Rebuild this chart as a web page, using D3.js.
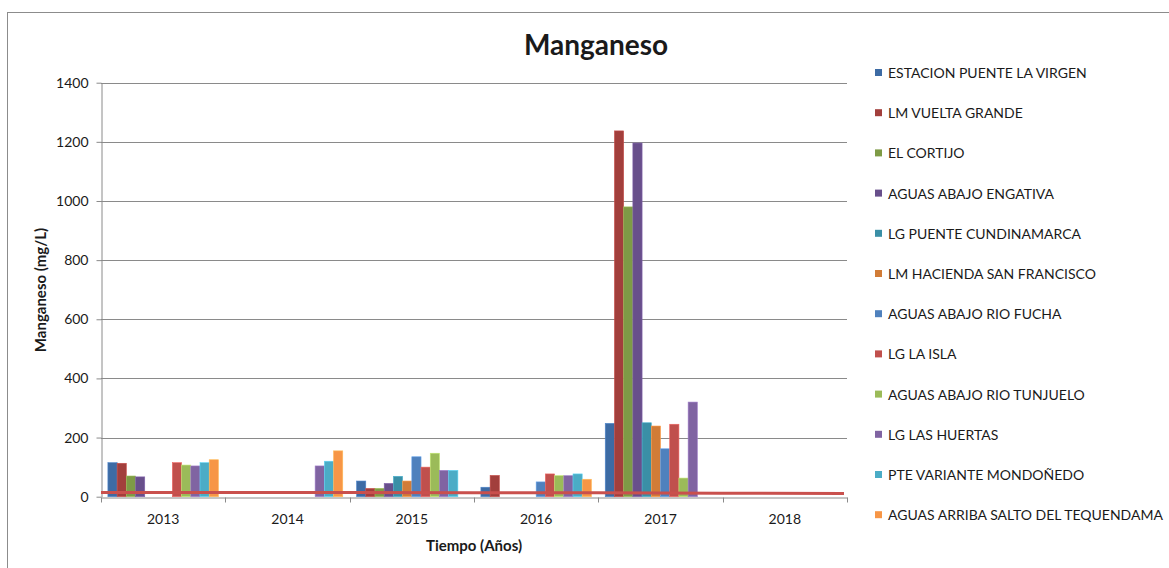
<!DOCTYPE html>
<html>
<head>
<meta charset="utf-8">
<script src="https://cdn.jsdelivr.net/npm/d3@7"></script>
<style>
  body { margin: 0; background: #fff; }
  text { font-family: Lato, "Liberation Sans", sans-serif; fill: #1a1a1a; }
</style>
</head>
<body>
<svg id="chart" width="1169" height="568"></svg>
<script>
const years = ["2013", "2014", "2015", "2016", "2017", "2018"]

const stations = [
  "ESTACION PUENTE LA VIRGEN",
  "LM VUELTA GRANDE",
  "EL CORTIJO",
  "AGUAS ABAJO ENGATIVA",
  "LG PUENTE CUNDINAMARCA",
  "LM HACIENDA SAN FRANCISCO",
  "AGUAS ABAJO RIO FUCHA",
  "LG LA ISLA",
  "AGUAS ABAJO RIO TUNJUELO",
  "LG LAS HUERTAS",
  "PTE VARIANTE MONDOÑEDO",
  "AGUAS ARRIBA SALTO DEL TEQUENDAMA"
]

const stationColors = [
  "#3D6BA4", "#A23F3C", "#7E9B46", "#684F8B", "#3A8FA6", "#D17C37",
  "#4F81BD", "#C0504D", "#9BBB59", "#8064A2", "#4BACC6", "#F79646"
]

// one row per station, one value per year (null = no sample)
const values = [
  [115, null, 53, 32, 248, null],
  [113, null, 28, 72, 1237, null],
  [70, null, 28, null, 980, null],
  [67, null, 45, null, 1196, null],
  [null, null, 69, null, 250, null],
  [null, null, 53, null, 239, null],
  [null, null, 135, 50, 162, null],
  [115, null, 100, 77, 245, null],
  [107, null, 147, 71, 63, null],
  [104, 104, 89, 71, 320, null],
  [115, 120, 89, 77, null, null],
  [125, 155, null, 59, null, null]
]

// limit line, read at each year boundary
const limitValues = [14, 14, 14, 13, 13, 12, 11]

const yTicks = [0, 200, 400, 600, 800, 1000, 1200, 1400]

const svg = d3.select("#chart")

const plotLeft = 101, plotRight = 847, plotTop = 82.7, plotBottom = 496.7

svg.append("rect")
.attr("x", 7.5)
.attr("y", 12.5)
.attr("width", 1200)
.attr("height", 600)
.attr("fill", "none")
.attr("stroke", "#8c8c8c")
.attr("stroke-width", 1)

const x = d3.scaleBand()
.domain(years)
.range([plotLeft, plotRight])

const inner = d3.scaleBand()
.domain(d3.range(stations.length))
.range([0, x.bandwidth()])
.paddingOuter(0.75)

const y = d3.scaleLinear()
.domain([0, 1400])
.range([plotBottom, plotTop])

// gridlines
svg.append("g")
.selectAll("line")
.data(yTicks.filter((d) => d > 0))
.join("line")
.attr("x1", plotLeft)
.attr("x2", plotRight)
.attr("y1", (d) => Math.round(y(d)) + 0.5)
.attr("y2", (d) => Math.round(y(d)) + 0.5)
.attr("stroke", "#8a8a8a")

// bars
const bars = svg.append("g")

values.forEach((row, si) => {
  bars.selectAll(".s" + si)
  .data(row.map((v, yi) => ({ v, year: years[yi] })).filter((d) => d.v != null))
  .join("rect")
  .attr("class", "s" + si)
  .attr("x", (d) => x(d.year) + inner(si))
  .attr("width", inner.bandwidth())
  .attr("y", (d) => y(d.v))
  .attr("height", (d) => y(0) - y(d.v))
  .attr("fill", stationColors[si])
  .attr("stroke", d3.color(stationColors[si]).brighter(0.6))
  .attr("stroke-width", 0.6)
})

// y axis
const yAxis = svg.append("g")
.attr("transform", `translate(${plotLeft + 0.5},0)`)
.call(d3.axisLeft(y).tickValues(yTicks).tickFormat(d3.format("d")).tickSize(5).tickPadding(8).tickSizeOuter(0))

yAxis.select(".domain").attr("stroke", "#8a8a8a")
yAxis.selectAll(".tick line").attr("stroke", "#8a8a8a")
yAxis.selectAll(".tick text")
.style("font-size", "14px")
.style("font-family", "Lato, sans-serif")
.attr("fill", "#1a1a1a")

// x axis
const xAxis = svg.append("g")
.attr("transform", `translate(0,${Math.round(plotBottom) + 0.5})`)
.call(d3.axisBottom(x).tickSize(0).tickPadding(17))

xAxis.select(".domain").attr("stroke", "#8a8a8a")
xAxis.selectAll(".tick text")
.style("font-size", "14px")
.style("font-family", "Lato, sans-serif")
.attr("fill", "#1a1a1a")

xAxis.selectAll(".sep")
.data(d3.range(years.length + 1))
.join("line")
.attr("class", "sep")
.attr("x1", (i) => Math.round(plotLeft + i * x.step()) + 0.5)
.attr("x2", (i) => Math.round(plotLeft + i * x.step()) + 0.5)
.attr("y1", 0)
.attr("y2", 5)
.attr("stroke", "#8a8a8a")

// limit line
const lx = d3.scaleLinear().domain([0, years.length]).range([plotLeft, plotRight - 3])

svg.append("path")
.datum(limitValues)
.attr("d", d3.line().x((d, i) => lx(i)).y((d) => y(d)))
.attr("fill", "none")
.attr("stroke", "#C9504D")
.attr("stroke-width", 3)

// titles
svg.append("text")
.attr("x", 596)
.attr("y", 55)
.attr("text-anchor", "middle")
.style("font-size", "28px")
.style("font-weight", "bold")
.text("Manganeso")

svg.append("text")
.attr("transform", "translate(46,290) rotate(-90)")
.attr("text-anchor", "middle")
.style("font-size", "15px")
.style("font-weight", "bold")
.text("Manganeso (mg/L)")

svg.append("text")
.attr("x", 474)
.attr("y", 551)
.attr("text-anchor", "middle")
.style("font-size", "15px")
.style("font-weight", "bold")
.text("Tiempo (Años)")

// legend
const legend = svg.append("g")

stations.forEach((name, i) => {
  const ly = 73 + i * 40.2
  legend.append("rect")
  .attr("x", 875)
  .attr("y", ly - 4)
  .attr("width", 7)
  .attr("height", 7)
  .attr("fill", stationColors[i])

  legend.append("text")
  .attr("x", 888)
  .attr("y", ly + 5)
  .style("font-size", "14px")
  .text(name)
})
</script>
</body>
</html>
